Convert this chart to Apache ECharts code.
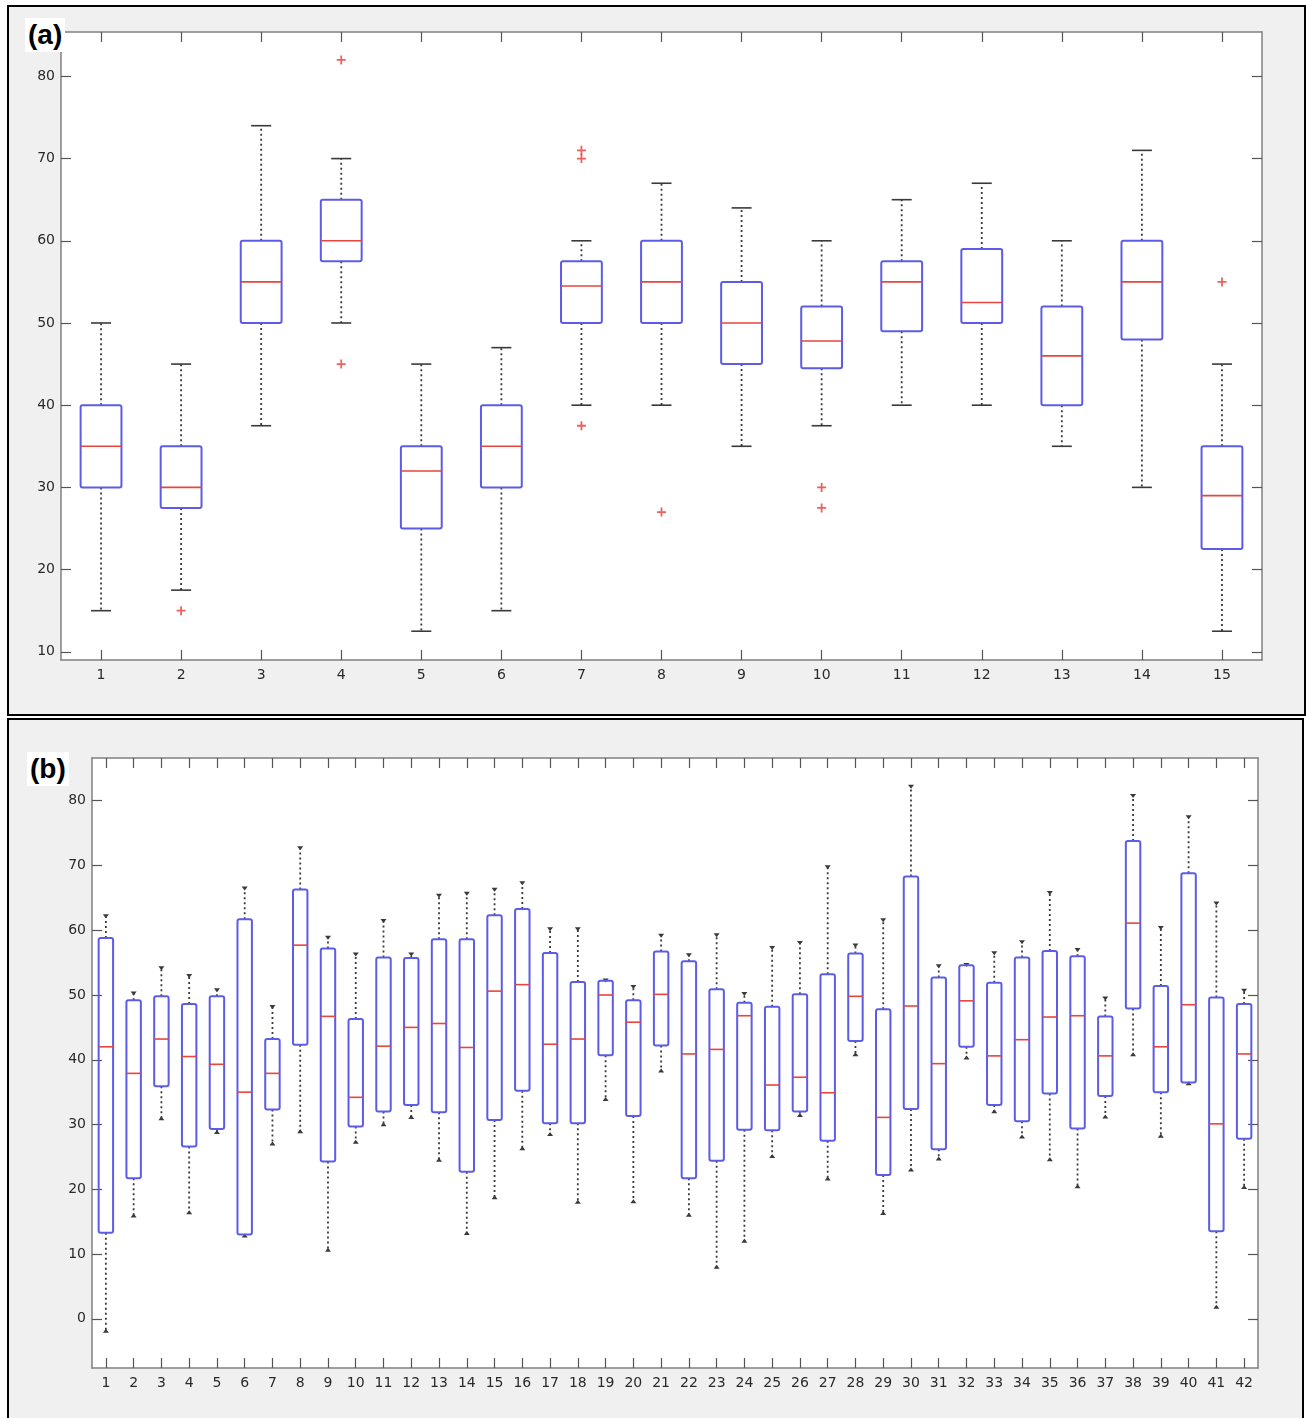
<!DOCTYPE html>
<html>
<head>
<meta charset="utf-8">
<script src="https://cdn.jsdelivr.net/npm/echarts@6/dist/echarts.min.js"></script>
<style>
  body { margin: 0; background: #fff; }
  .panel { position: absolute; box-sizing: border-box; border: 2px solid #000; background: #f0f0f0; }
  .tag { position: absolute; background: #fff; font: bold 28px "Liberation Sans", Arial, sans-serif; color: #000; line-height: 34px; padding: 0 3px; z-index: 5; }
</style>
</head>
<body>
<div class="panel" style="left:7px;top:5px;width:1299px;height:711px"></div>
<div class="panel" style="left:7px;top:718px;width:1297px;height:702px"></div>
<div id="chart" style="position:absolute;left:0;top:0;width:1306px;height:1418px;z-index:2"></div>
<div class="tag" style="left:25px;top:18px">(a)</div>
<div class="tag" style="left:27px;top:752px">(b)</div>
<script>
// panel (a): 15 groups
var catsA = ['1','2','3','4','5','6','7','8','9','10','11','12','13','14','15'];
var lowA  = [15, 17.5, 37.5, 50, 12.5, 15, 40, 40, 35, 37.5, 40, 40, 35, 30, 12.5];
var q1A   = [30, 27.5, 50, 57.5, 25, 30, 50, 50, 45, 44.5, 49, 50, 40, 48, 22.5];
var medA  = [35, 30, 55, 60, 32, 35, 54.5, 55, 50, 47.8, 55, 52.5, 46, 55, 29];
var q3A   = [40, 35, 60, 65, 35, 40, 57.5, 60, 55, 52, 57.5, 59, 52, 60, 35];
var highA = [50, 45, 74, 70, 45, 47, 60, 67, 64, 60, 65, 67, 60, 71, 45];
// outliers: [group index, value]
var outliersA = [[1, 15], [3, 82], [3, 45], [6, 71], [6, 70], [6, 37.5], [7, 27], [9, 30], [9, 27.5], [14, 55]];
var yTicksA = [10, 20, 30, 40, 50, 60, 70, 80];

// panel (b): 42 groups
var catsB = [];
for (var k = 1; k <= 42; k++) catsB.push(String(k));
var lowB  = [-2, 15.8, 30.8, 16.3, 28.7, 12.7, 26.9, 28.8, 10.5, 27.2, 29.9, 31.0, 24.4, 13.1, 18.6, 26.2, 28.4, 17.9, 33.8, 18.0, 38.2,
             15.9, 7.9, 11.9, 25.0, 31.3, 21.5, 40.7, 16.2, 22.9, 24.6, 40.2, 31.9, 28.0, 24.5, 20.3, 31.1, 40.7, 28.1, 36.2, 1.7, 20.2];
var q1B   = [13.3, 21.7, 35.9, 26.6, 29.3, 13.0, 32.3, 42.3, 24.3, 29.7, 32.0, 33.0, 31.9, 22.7, 30.7, 35.2, 30.2, 30.2, 40.7, 31.3, 42.2,
             21.7, 24.4, 29.2, 29.1, 32.0, 27.5, 42.9, 22.2, 32.4, 26.2, 42.0, 33.0, 30.5, 34.8, 29.4, 34.4, 47.9, 35.0, 36.5, 13.5, 27.8];
var medB  = [42.0, 37.9, 43.2, 40.5, 39.3, 35.0, 37.9, 57.7, 46.7, 34.2, 42.1, 45.0, 45.6, 41.9, 50.6, 51.6, 42.4, 43.2, 50.0, 45.8, 50.1,
             40.9, 41.6, 46.8, 36.1, 37.3, 34.9, 49.8, 31.1, 48.3, 39.4, 49.1, 40.6, 43.1, 46.6, 46.8, 40.6, 61.1, 42.0, 48.5, 30.1, 40.9];
var q3B   = [58.8, 49.2, 49.8, 48.6, 49.8, 61.7, 43.2, 66.3, 57.2, 46.3, 55.8, 55.7, 58.6, 58.6, 62.3, 63.3, 56.5, 52.0, 52.2, 49.2, 56.7,
             55.2, 50.9, 48.8, 48.2, 50.1, 53.2, 56.4, 47.8, 68.3, 52.7, 54.6, 51.9, 55.8, 56.8, 56.0, 46.7, 73.8, 51.4, 68.8, 49.6, 48.6];
var highB = [62.3, 50.4, 54.3, 53.1, 50.9, 66.6, 48.3, 72.8, 59.0, 56.4, 61.6, 56.4, 65.5, 65.8, 66.4, 67.4, 60.3, 60.3, 52.4, 51.4, 59.3,
             56.3, 59.4, 50.3, 57.4, 58.2, 69.9, 57.8, 61.7, 82.3, 54.6, 54.8, 56.6, 58.3, 65.9, 57.1, 49.6, 80.9, 60.5, 77.6, 64.3, 50.8];
var yTicksB = [0, 10, 20, 30, 40, 50, 60, 70, 80];

var BLUE = '#5c5ce8';
var RED = '#e8453c';
var INK = '#3a3a3a';

function rows(low, q1, med, q3, high) {
  return low.map(function (v, i) { return [i, v, q1[i], med[i], q3[i], high[i]]; });
}

function boxRenderer(boxFrac, capType) {
  return function (params, api) {
    var i = api.value(0);
    var cx = api.coord([i, 0])[0];
    var band = api.size([1, 0])[0];
    var half = band * boxFrac / 2;
    var yLow = api.coord([i, api.value(1)])[1];
    var yQ1 = api.coord([i, api.value(2)])[1];
    var yMed = api.coord([i, api.value(3)])[1];
    var yQ3 = api.coord([i, api.value(4)])[1];
    var yHigh = api.coord([i, api.value(5)])[1];
    var dotted = { stroke: INK, lineWidth: 1.8, lineDash: [2, 3] };
    var kids = [
      { type: 'line', shape: { x1: cx, y1: yQ3, x2: cx, y2: yHigh }, style: dotted },
      { type: 'line', shape: { x1: cx, y1: yQ1, x2: cx, y2: yLow }, style: dotted }
    ];
    if (capType === 'line') {
      var cw = band * 0.125;
      kids.push({ type: 'line', shape: { x1: cx - cw, y1: yHigh, x2: cx + cw, y2: yHigh }, style: { stroke: INK, lineWidth: 1.6 } });
      kids.push({ type: 'line', shape: { x1: cx - cw, y1: yLow, x2: cx + cw, y2: yLow }, style: { stroke: INK, lineWidth: 1.6 } });
    } else {
      kids.push({ type: 'polygon', shape: { points: [[cx - 3, yHigh - 1], [cx + 3, yHigh - 1], [cx, yHigh + 3]] }, style: { fill: INK } });
      kids.push({ type: 'polygon', shape: { points: [[cx - 3, yLow + 1], [cx + 3, yLow + 1], [cx, yLow - 3]] }, style: { fill: INK } });
    }
    kids.push({ type: 'rect', shape: { x: cx - half, y: yQ3, width: half * 2, height: yQ1 - yQ3, r: 2 },
      style: { fill: 'none', stroke: BLUE, lineWidth: 2 } });
    kids.push({ type: 'line', shape: { x1: cx - half, y1: yMed, x2: cx + half, y2: yMed }, style: { stroke: RED, lineWidth: 1.6 } });
    return { type: 'group', children: kids };
  };
}

var lineGray = { color: '#808080', width: 1.5 };
var label = { color: '#2a2a2a', fontFamily: 'DejaVu Sans', fontSize: 14 };
var tick = { show: true, inside: true, length: 10, lineStyle: { color: '#555', width: 1.2 } };

function xAx(grid, cats, pos, showLabel, margin) {
  return {
    type: 'category', gridIndex: grid, position: pos, data: cats,
    axisLine: { show: true, onZero: false, lineStyle: lineGray },
    axisTick: Object.assign({ alignWithLabel: true, interval: 0 }, tick),
    axisLabel: Object.assign({ show: showLabel, interval: 0, margin: margin }, label),
    splitLine: { show: false }
  };
}
function yAx(grid, min, max, ticks, pos, showLabel, margin) {
  return {
    type: 'value', gridIndex: grid, position: pos, min: min, max: max,
    axisLine: { show: true, onZero: false, lineStyle: lineGray },
    axisTick: Object.assign({ customValues: ticks }, tick),
    axisLabel: Object.assign({ show: showLabel, customValues: ticks, margin: margin }, label),
    splitLine: { show: false }
  };
}

var chart = echarts.init(document.getElementById('chart'));
chart.setOption({
  animation: false,
  grid: [
    { left: 61, top: 32, width: 1201, height: 628, show: true, backgroundColor: '#fff', borderWidth: 0 },
    { left: 92, top: 758, width: 1166, height: 610, show: true, backgroundColor: '#fff', borderWidth: 0 }
  ],
  xAxis: [
    xAx(0, catsA, 'bottom', true, 8),
    xAx(0, catsA, 'top', false, 8),
    xAx(1, catsB, 'bottom', true, 8),
    xAx(1, catsB, 'top', false, 8)
  ],
  yAxis: [
    yAx(0, 9, 85.4, yTicksA, 'left', true, 6),
    yAx(0, 9, 85.4, yTicksA, 'right', false, 6),
    yAx(1, -7.6, 86.6, yTicksB, 'left', true, 6),
    yAx(1, -7.6, 86.6, yTicksB, 'right', false, 6)
  ],
  series: [
    {
      type: 'custom', xAxisIndex: 0, yAxisIndex: 0,
      renderItem: boxRenderer(0.51, 'line'),
      encode: { x: 0, y: [1, 2, 3, 4, 5] },
      data: rows(lowA, q1A, medA, q3A, highA)
    },
    {
      type: 'scatter', xAxisIndex: 0, yAxisIndex: 0,
      symbol: 'path://M2,0 L3,0 L3,2 L5,2 L5,3 L3,3 L3,5 L2,5 L2,3 L0,3 L0,2 L2,2 Z',
      symbolSize: 9,
      itemStyle: { color: '#e53935' },
      data: outliersA
    },
    {
      type: 'custom', xAxisIndex: 2, yAxisIndex: 2,
      renderItem: boxRenderer(0.52, 'tri'),
      encode: { x: 0, y: [1, 2, 3, 4, 5] },
      data: rows(lowB, q1B, medB, q3B, highB)
    }
  ]
});
</script>
</body>
</html>
